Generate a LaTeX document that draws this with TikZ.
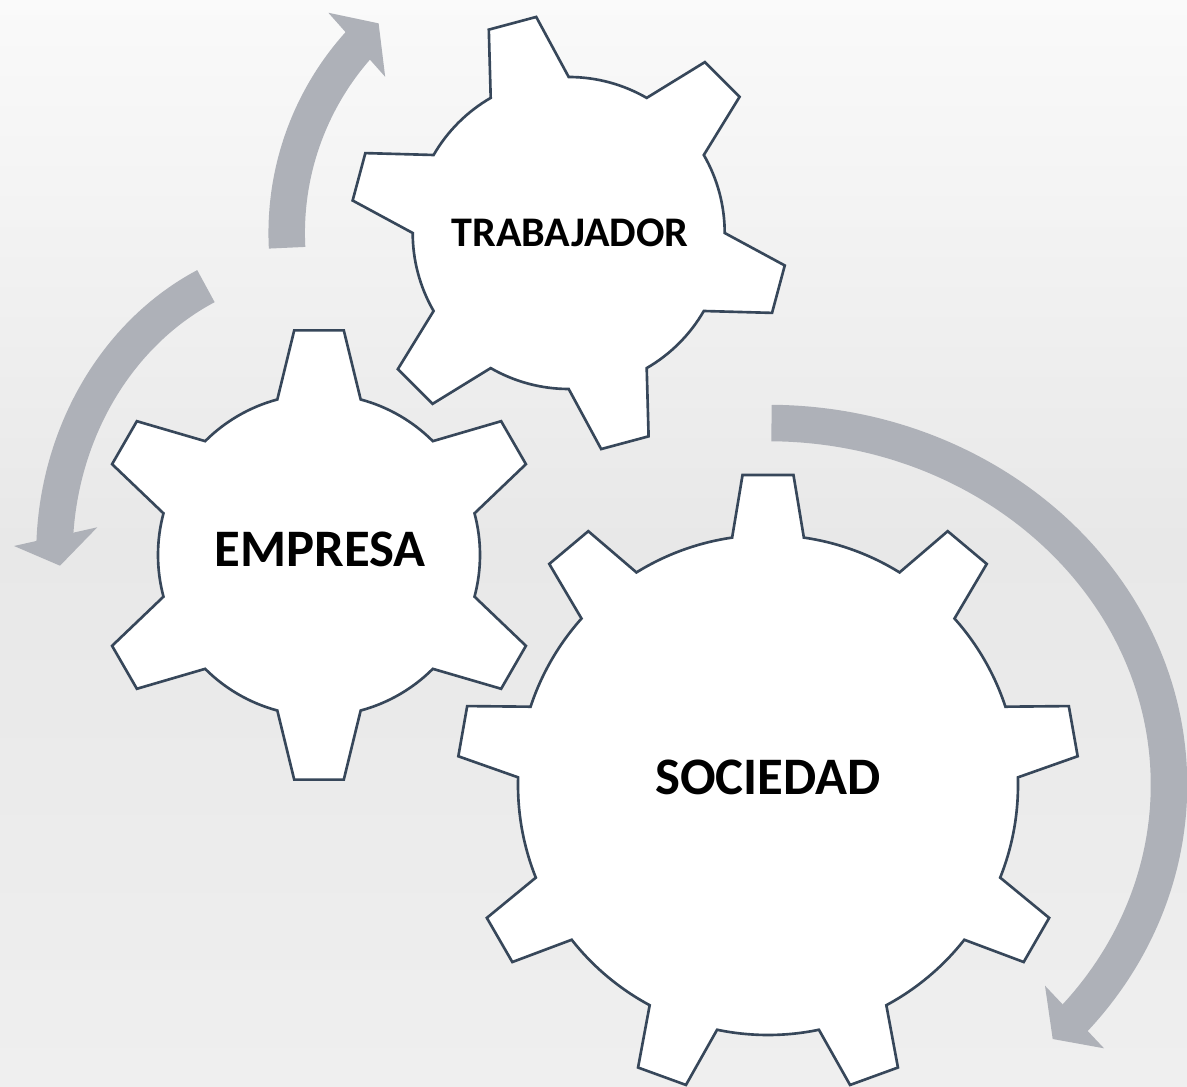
\documentclass[tikz,border=0pt]{standalone}
\usepackage{fontspec}
\setmainfont{Carlito}
\usepackage{tikz}

\definecolor{arrowgray}{HTML}{AEB1B8}
\definecolor{gearline}{HTML}{37475A}
\definecolor{bgtop}{HTML}{FAFAFA}
\definecolor{bgmid}{HTML}{E8E8E8}
\definecolor{bgbot}{HTML}{EFEFEF}

\tikzset{
  gear/.style={draw=gearline, fill=white, line width=1.5pt, line join=miter},
  band/.style={draw=arrowgray, line width=0.73cm},
  gearText/.style={font=\bfseries\fontsize{30}{36}\selectfont, anchor=base}
}

% gear outline: centre, teeth, root radius, tip radius, root half angle, tip half angle, first tooth
\newcommand{\cogwheel}[7]{%
  \draw[gear, shift={#1}] (#7-#5:#3)
    \foreach \k [evaluate=\k as \a using #7+(\k-1)*360/#2] in {1,...,#2}{
      -- (\a-#6:#4) -- (\a+#6:#4) -- (\a+#5:#3)
      arc[start angle=\a+#5, end angle=\a+360/#2-#5, radius=#3]
    } -- cycle;}

\begin{document}
\begin{tikzpicture}[x=0.02cm, y=0.02cm]
\useasboundingbox (0,0) rectangle (1187,1086);
\clip (0,0) rectangle (1187,1086);

% A. Background
\fill[top color=bgtop, bottom color=bgbot, middle color=bgmid] (0,0) rectangle (1187,1086);

\coordinate (T) at (568.7,853);
\coordinate (E) at (319,531);
\coordinate (S) at (768,301);

% B. Curved arrows round the gears
\draw[band, shift={(T)}] (183:282) arc[start angle=183, end angle=136.5, radius=282];
\fill[arrowgray, shift={(T)}] (137.5:326) -- (132.2:283) -- (139.6:241) -- cycle;

\draw[band, shift={(E)}] (115.3:264.6 and 297.4) arc[start angle=115.3, end angle=178.5, x radius=264.6, y radius=297.4];
\fill[arrowgray, shift={(E)}] (-305,9) -- (-259,-10.7) -- (-221.7,27.7) -- cycle;

\draw[band, shift={(S)}] (89.5:401 and 362) arc[start angle=89.5, end angle=-42, x radius=401, y radius=362];
\fill[arrowgray, shift={(S)}] (336,-263.3) -- (284.7,-254) -- (277,-200.7) -- cycle;

% C. Gears
\cogwheel{(T)}{6}{156}{218.5}{15}{6.45}{165}
\cogwheel{(E)}{6}{161}{226}{15}{6.3}{90}
\cogwheel{(S)}{9}{250}{311}{8.25}{4.7}{90}

% D. Labels
\node[gearText, font=\bfseries\fontsize{24}{28}\selectfont] (trab) at (570,839.3) {TRABAJADOR};
\node[gearText] (emp) at (320,519) {EMPRESA};
\node[gearText] (soc) at (768,291) {SOCIEDAD};

\end{tikzpicture}
\end{document}
